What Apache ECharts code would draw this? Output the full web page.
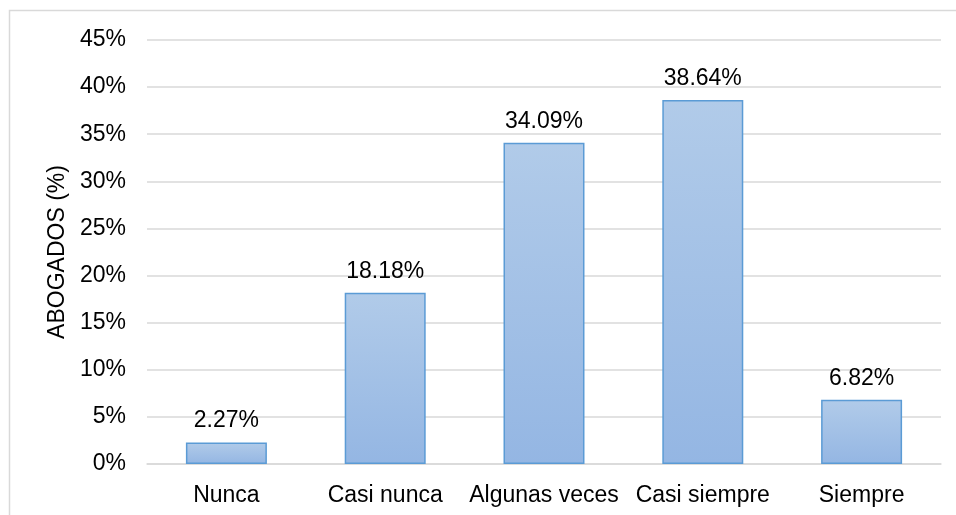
<!DOCTYPE html>
<html>
<head>
<meta charset="utf-8">
<script src="https://cdn.jsdelivr.net/npm/echarts@6/dist/echarts.min.js"></script>
<style>html,body{margin:0;padding:0;background:#fff;}#c{width:956px;height:515px;}</style>
</head>
<body>
<div id="c"></div>
<script>
const categories = ['Nunca', 'Casi nunca', 'Algunas veces', 'Casi siempre', 'Siempre'];
const values = [2.27, 18.18, 34.09, 38.64, 6.82];
const yTicks = [0, 5, 10, 15, 20, 25, 30, 35, 40, 45];
const yName = 'ABOGADOS (%)';

const chart = echarts.init(document.getElementById('c'), null, {renderer: 'canvas'});
const font = 'Liberation Sans, Arial, sans-serif';
const fs = 23;
chart.setOption({
  animation: false,
  backgroundColor: '#ffffff',
  graphic: [{
    type: 'rect', silent: true,
    shape: {x: 9.5, y: 10.5, width: 1000, height: 600},
    style: {fill: 'none', stroke: '#d9d9d9', lineWidth: 1.5}
  }],
  grid: {left: 147, right: 15, top: 40, bottom: 51},
  xAxis: {
    type: 'category', data: categories,
    axisLine: {show: true, lineStyle: {color: '#d9d9d9', width: 1.5}},
    axisTick: {show: false},
    axisLabel: {color: '#000', fontSize: fs, fontFamily: font, margin: 20, interval: 0}
  },
  yAxis: {
    type: 'value', min: yTicks[0], max: yTicks[yTicks.length - 1], interval: 5,
    name: yName, nameLocation: 'middle', nameGap: 76, nameRotate: 90,
    nameTextStyle: {color: '#000', fontSize: fs, fontFamily: font},
    axisLine: {show: false}, axisTick: {show: false},
    splitLine: {lineStyle: {color: '#d9d9d9', width: 1.5}},
    axisLabel: {color: '#000', fontSize: fs, fontFamily: font, margin: 21, formatter: v => v + '%'}
  },
  series: [{
    type: 'bar', data: values, barWidth: '51%',
    itemStyle: {
      color: new echarts.graphic.LinearGradient(0, 0, 0, 1, [
        {offset: 0, color: '#b1cbe9'},
        {offset: 1, color: '#94b6e3'}
      ]),
      borderColor: '#5b9bd5', borderWidth: 1.5
    },
    label: {show: true, position: 'top', distance: 10, color: '#000', fontSize: fs, fontFamily: font,
      formatter: p => p.value.toFixed(2) + '%'}
  }]
});
</script>
</body>
</html>
